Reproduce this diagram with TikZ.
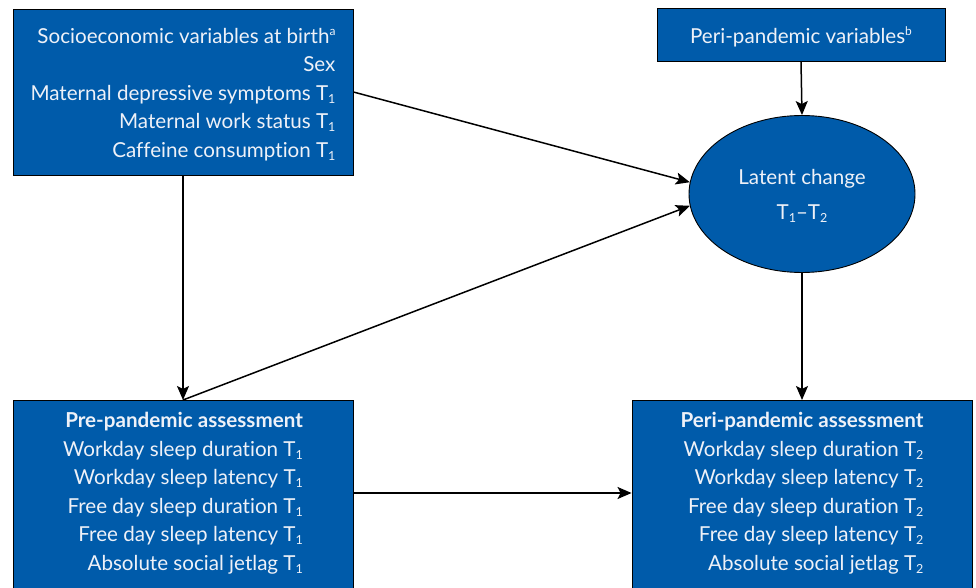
\documentclass[tikz,border=0pt]{standalone}
\usepackage{fontspec}
\setmainfont{Lato}[Ligatures=NoCommon]
\usetikzlibrary{shapes.geometric,arrows.meta,calc}
\definecolor{boxblue}{RGB}{0,91,170}
\definecolor{txt}{RGB}{238,241,248}
\newcommand\mysub[1]{\raisebox{-0.3ex}{\fontsize{12.5}{12.5}\selectfont #1}}
\newcommand\mysup[1]{\raisebox{0.75ex}{\fontsize{12}{12}\selectfont #1}}
\begin{document}
\begin{tikzpicture}[x=1pt,y=-1pt,
 box/.style={draw=black,line width=0.9pt,fill=boxblue,rectangle,inner sep=0pt},
 txtnode/.style={text=txt,font=\fontsize{20.6}{28.5}\selectfont,align=right,inner sep=0pt},
 arr/.style={line width=1.5pt,-{Stealth[length=14pt,width=12pt,inset=3pt]}}]
\clip (0,0) rectangle (976,588);
\fill[white] (0,0) rectangle (976,588);
% boxes
\node[box,minimum width=340,minimum height=166] (covbox) at (183,92) {};
\node[txtnode] (covtext) at (183,94.5) {Socioeconomic variables at birth\mysup{a}\\Sex\\Maternal depressive symptoms T\mysub{1}\\Maternal work status T\mysub{1}\\Caffeine consumption T\mysub{1}};
\node[box,minimum width=288,minimum height=53] (perivar) at (801,34.5) {};
\node[txtnode] (perivartext) at (801,37) {Peri-pandemic variables\mysup{b}};
\node[draw=black,line width=0.9pt,fill=boxblue,ellipse,minimum width=226,minimum height=157,inner sep=0pt] (latent) at (802,194) {};
\node[text=txt,font=\fontsize{20.6}{35}\selectfont,align=center,inner sep=0pt] (lattext) at (802,195.5) {Latent change\\T\mysub{1}–T\mysub{2}};
\node[box,minimum width=340,minimum height=200,anchor=north] (prebox) at (183,400) {};
\node[txtnode] (pretext) at (183,493) {\textbf{Pre-pandemic assessment}\\Workday sleep duration T\mysub{1}\\Workday sleep latency T\mysub{1}\\Free day sleep duration T\mysub{1}\\Free day sleep latency T\mysub{1}\\Absolute social jetlag T\mysub{1}};
\node[box,minimum width=340,minimum height=200,anchor=north] (peribox) at (802,400) {};
\node[txtnode] (peritext) at (802,493) {\textbf{Peri-pandemic assessment}\\Workday sleep duration T\mysub{2}\\Workday sleep latency T\mysub{2}\\Free day sleep duration T\mysub{2}\\Free day sleep latency T\mysub{2}\\Absolute social jetlag T\mysub{2}};
% arrows
\draw[arr] (perivar.south) -- (latent.north);
\draw[arr] (covbox.east) -- (latent.174);
\draw[arr] (prebox.north) -- (latent.186);
\draw[arr] (covbox.south) -- (prebox.north);
\draw[arr] ($(prebox.north east)+(0,93)$) -- ($(peribox.north west)+(0,93)$);
\draw[arr] (latent.south) -- (peribox.north);
\end{tikzpicture}
\end{document}
